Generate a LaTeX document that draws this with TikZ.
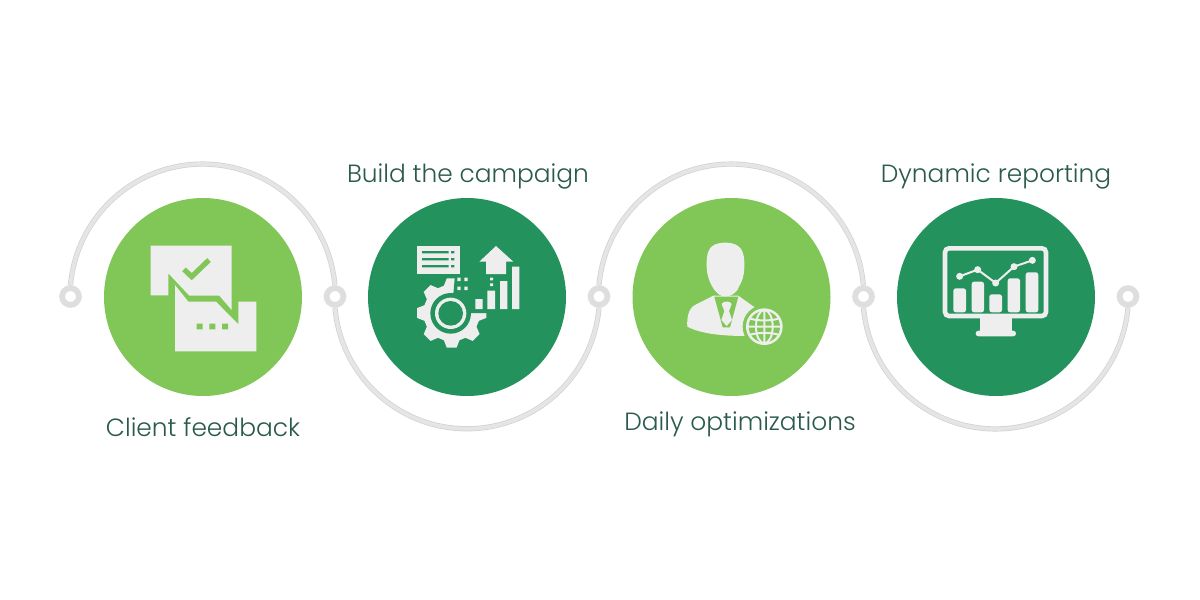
\documentclass[tikz,border=0pt]{standalone}
\usepackage{fontspec}
\setmainfont{Poppins Light}
\definecolor{lg}{HTML}{80C757}
\definecolor{dg}{HTML}{23925D}
\definecolor{ic}{HTML}{EEEEEE}
\definecolor{tx}{HTML}{2A5A4D}
\tikzset{
 x=0.5pt,y=-0.5pt,
 disc/.style={circle,minimum size=99pt,inner sep=0pt,draw=none},
 ringnode/.style={circle,minimum size=8.4pt,inner sep=0pt,fill=white,draw=gray!26,line width=2.9pt},
 track/.style={draw=gray!36,double=gray!20,double distance=1.9pt,line width=0.35pt},
 lbl/.style={text=tx,font=\fontsize{12.45}{15}\selectfont,inner sep=0pt},
 iconscope/.style={x=0.16667pt,y=-0.16667pt},
 w/.style={fill=ic,draw=none}
}
\begin{document}
\begin{tikzpicture}
\useasboundingbox (0,0) rectangle (1200,600);
\fill[white] (0,0) rectangle (1200,600);
\node[ringnode] (r1) at (70.5,296.5) {};
\node[ringnode] (r2) at (335,296.5) {};
\node[ringnode] (r3) at (599,296.5) {};
\node[ringnode] (r4) at (863.5,296.5) {};
\node[ringnode] (r5) at (1128,296.5) {};
\draw[track] (r1.north) arc[start angle=-175,end angle=-5,radius=132.7];
\draw[track] (r2.south) arc[start angle=175,end angle=5,radius=132.5];
\draw[track] (r3.north) arc[start angle=-175,end angle=-5,radius=132.7];
\draw[track] (r4.south) arc[start angle=175,end angle=5,radius=132.7];
\node[disc,fill=lg] (c1) at (203,297) {};
\node[disc,fill=dg] (c2) at (467,297) {};
\node[disc,fill=lg] (c3) at (731.5,297) {};
\node[disc,fill=dg] (c4) at (996,297) {};
\node[lbl] (t1) at (203,427) {Client feedback};
\node[lbl] (t2) at (468,176) {Build the campaign};
\node[lbl] (t3) at (740,424) {Daily optimizations};
\node[lbl] (t4) at (996,176) {Dynamic reporting};
% icon 1
\begin{scope}[shift={(65pt,-115pt)},iconscope]
\fill[w] (62,47)--(305,47)--(305,240)--(268,197)--(178,197)--(115,130)--(115,196)--(62,196)--cycle;
\fill[w] (135,165)--(175,215)--(258,215)--(325,283)--(325,215)--(379,215)--(379,364)--(135,364)--cycle;
\draw[lg,line width=2.6pt] (162,118)--(185,140)--(237,90);
\fill[lg] (200,281) rectangle (218,298) (238,281) rectangle (256,298) (276,281) rectangle (294,298);
\end{scope}
% icon 2
\begin{scope}[shift={(200pt,-115pt)},iconscope]
\begin{scope}[shift={(155*0.16667pt,-249*0.16667pt)}]
\fill[w] (-16:85)
 \foreach \a in {0,45,...,315} { -- ({\a-16}:85) -- ({\a-8}:105) -- ({\a+8}:105) -- ({\a+16}:85) } -- cycle;
\fill[dg] (0,0) -- (0:130) -- (-45:170) -- (-85:130) -- cycle;
\fill[dg] (-3,1) circle (61);
\fill[w] (-3,1) circle (47);
\fill[dg] (-3,1) circle (37);
\end{scope}
\fill[w] (50,47) rectangle (180,132);
\fill[dg] (66,63) rectangle (146,70) (66,84) rectangle (146,91) (66,105) rectangle (146,112)
 (153,63) rectangle (163,70) (153,84) rectangle (163,91) (153,105) rectangle (163,112);
\fill[w] (288,48)--(340,95)--(318,95)--(318,132)--(258,132)--(258,95)--(238,95)--cycle;
\fill[w] (226,207) rectangle (248,237) (262,182) rectangle (285,237) (300,153) rectangle (322,237) (336,110) rectangle (358,237);
\fill[w] (270,143) rectangle (279,151) (270,160) rectangle (279,168);
\fill[w] (172,143) rectangle (182,153) (193,143) rectangle (203,153) (172,170) rectangle (182,180) (193,170) rectangle (203,180);
\end{scope}
% icon 3
\begin{scope}[shift={(335pt,-115pt)},iconscope]
\fill[w] (166,38) .. controls (118,38) and (108,62) .. (110,112) .. controls (111,135) and (118,155) .. (127,170) .. controls (138,190) and (152,199) .. (167,199) .. controls (182,199) and (196,190) .. (207,170) .. controls (216,155) and (223,135) .. (223,112) .. controls (225,62) and (212,38) .. (166,38) -- cycle;
\fill[w] (130,197) -- (75,225) .. controls (55,235) and (50,265) .. (52,290) .. controls (90,310) and (150,318) .. (230,318) -- (280,300) -- (265,240) -- (205,197) -- cycle;
\fill[lg] (133,200) -- (205,200) -- (180,292) -- (158,292) -- cycle;
\fill[w] (166,199) .. controls (182,199) and (196,190) .. (205,176) -- (133,176) .. controls (142,190) and (152,199) .. (166,199) -- cycle;
\fill[w] (155,222) .. controls (160,212) and (180,212) .. (185,222) -- (177,243) -- (186,270) -- (170,288) -- (154,270) -- (163,243) -- cycle;
\fill[lg] (283,290) circle (65);
\fill[w] (283,290) circle (55);
\fill[lg] (283,290) circle (47);
\begin{scope}[shift={(283*0.16667pt,-290*0.16667pt)}]
\draw[ic,line width=1pt] (0,-50)--(0,50) (-50,0)--(50,0) (0,0) ellipse (25 and 50);
\draw[ic,line width=1pt] (-42,-24) .. controls (-20,-17) and (20,-17) .. (42,-24) (-42,24) .. controls (-20,17) and (20,17) .. (42,24);
\end{scope}
\end{scope}
% icon 4
\begin{scope}[shift={(465pt,-117.5pt)},iconscope]
\draw[ic,line width=2.3pt,rounded corners=2pt] (45,40) rectangle (348,243);
\fill[w] (150,250) rectangle (245,290);
\fill[w,rounded corners=1.4pt] (137,287) rectangle (258,304);
\fill[w,rounded corners=1.2pt] (70,232) -- (70,160) -- (108,160) -- (108,232) -- cycle;
\fill[w,rounded corners=1.2pt] (125,232) -- (125,140) -- (162,140) -- (162,232) -- cycle;
\fill[w,rounded corners=1.2pt] (178,232) -- (178,178) -- (216,178) -- (216,232) -- cycle;
\fill[w,rounded corners=1.2pt] (233,232) -- (233,130) -- (270,130) -- (270,232) -- cycle;
\fill[w,rounded corners=1.2pt] (287,232) -- (287,112) -- (325,112) -- (325,232) -- cycle;
\draw[ic,line width=1pt] (89,124)--(143,104)--(197,144)--(252,95)--(307,76);
\fill[w] (89,124) circle (10.5) (143,104) circle (10.5) (197,144) circle (10.5) (252,95) circle (10.5) (307,76) circle (10.5);
\end{scope}
\end{tikzpicture}
\end{document}
